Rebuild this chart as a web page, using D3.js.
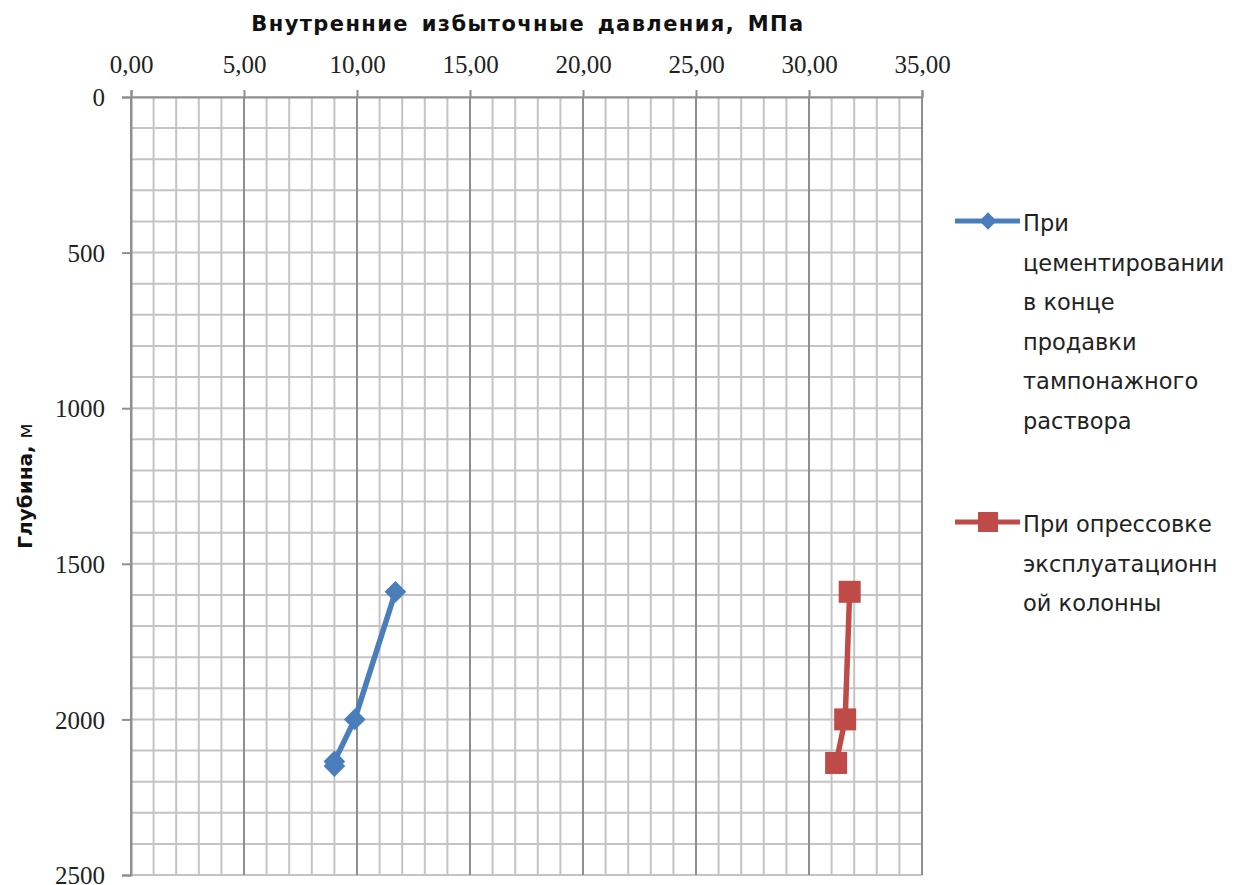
<!DOCTYPE html>
<html>
<head>
<meta charset="utf-8">
<script src="https://cdn.jsdelivr.net/npm/d3@7"></script>
<style>
  body { margin: 0; background: #fff; }
  svg { display: block; }
</style>
</head>
<body>
<div id="chart"></div>
<script>
// Data: pressure (MPa) vs depth (m)
let cementDepth = [1590, 2000, 2135, 2150];
let cementPressure = [11.7, 9.9, 9.0, 9.0];
let testDepth = [1590, 2000, 2140];
let testPressure = [31.8, 31.6, 31.2];

let xTicks = [0, 5, 10, 15, 20, 25, 30, 35];
let yTicks = [0, 500, 1000, 1500, 2000, 2500];

let cementLegend = ["При", "цементировании", "в конце", "продавки", "тампонажного", "раствора"];
let testLegend = ["При опрессовке", "эксплуатационн", "ой колонны"];

let width = 1235;
let height = 885;
let plotLeft = 131, plotRight = 922, plotTop = 97, plotBottom = 875;

let svg = d3.select("#chart").append("svg")
  .attr("width", width)
  .attr("height", height);

let x = d3.scaleLinear().domain([0, 35]).range([plotLeft, plotRight]);
let y = d3.scaleLinear().domain([0, 2500]).range([plotTop, plotBottom]);

// grid
let minorX = d3.range(0, 36, 1);
let minorY = d3.range(0, 2501, 100);

svg.append("g").selectAll("line")
  .data(minorY)
  .enter().append("line")
  .attr("x1", plotLeft).attr("x2", plotRight)
  .attr("y1", d => y(d)).attr("y2", d => y(d))
  .attr("stroke", "#c4c4c4")
  .attr("stroke-width", 2);

svg.append("g").selectAll("line")
  .data(minorX.filter(d => d % 5 !== 0))
  .enter().append("line")
  .attr("x1", d => x(d)).attr("x2", d => x(d))
  .attr("y1", plotTop).attr("y2", plotBottom)
  .attr("stroke", "#c4c4c4")
  .attr("stroke-width", 2);

svg.append("g").selectAll("line")
  .data(xTicks)
  .enter().append("line")
  .attr("x1", d => x(d)).attr("x2", d => x(d))
  .attr("y1", plotTop).attr("y2", plotBottom)
  .attr("stroke", "#8f8f8f")
  .attr("stroke-width", 2);

// axes
let fmt = d => d3.format(".2f")(d).replace(".", ",");

let xAxis = svg.append("g")
  .attr("transform", "translate(0," + plotTop + ")")
  .call(d3.axisTop(x).tickValues(xTicks).tickFormat(fmt).tickSize(7).tickPadding(17));

let yAxis = svg.append("g")
  .attr("transform", "translate(" + plotLeft + ",0)")
  .call(d3.axisLeft(y).tickValues(yTicks).tickFormat(d3.format("d")).tickSize(9).tickPadding(17));

[xAxis, yAxis].forEach(function(a) {
  a.attr("font-family", "'Liberation Serif', serif").attr("font-size", 25);
  a.select(".domain").attr("stroke", "#8f8f8f").attr("stroke-width", 2);
  a.selectAll(".tick line").attr("stroke", "#8f8f8f").attr("stroke-width", 2);
  a.selectAll(".tick text").attr("fill", "#222");
});
yAxis.selectAll(".tick text").attr("dy", "0.35em");

// axis titles
svg.append("text")
  .attr("x", 528).attr("y", 31)
  .attr("text-anchor", "middle")
  .attr("font-family", "'DejaVu Sans', sans-serif")
  .attr("font-weight", "bold")
  .attr("font-size", 21)
  .attr("letter-spacing", 1.4)
  .attr("word-spacing", 4)
  .attr("fill", "#111")
  .text("Внутренние избыточные давления, МПа");

let yTitle = svg.append("text")
  .attr("transform", "translate(32,486) rotate(-90)")
  .attr("text-anchor", "middle")
  .attr("font-family", "'DejaVu Sans', sans-serif")
  .attr("font-size", 20)
  .attr("fill", "#111");
yTitle.append("tspan").attr("font-weight", "bold").text("Глубина, ");
yTitle.append("tspan").text("м");

// series
let blue = "#4a7ebb";
let red = "#be4b48";

let line = d3.line()
  .x(d => x(d[0]))
  .y(d => y(d[1]));

let cementData = cementPressure.map((p, i) => [p, cementDepth[i]]);
let testData = testPressure.map((p, i) => [p, testDepth[i]]);

svg.append("path")
  .datum(cementData)
  .attr("d", line)
  .attr("fill", "none")
  .attr("stroke", blue)
  .attr("stroke-width", 5.5);

svg.append("g").selectAll("path")
  .data(cementData)
  .enter().append("path")
  .attr("transform", d => "translate(" + x(d[0]) + "," + y(d[1]) + ")")
  .attr("d", d3.symbol().type(d3.symbolDiamond2).size(300))
  .attr("fill", blue);

svg.append("path")
  .datum(testData)
  .attr("d", line)
  .attr("fill", "none")
  .attr("stroke", red)
  .attr("stroke-width", 5.5);

svg.append("g").selectAll("rect")
  .data(testData)
  .enter().append("rect")
  .attr("x", d => x(d[0]) - 11)
  .attr("y", d => y(d[1]) - 11)
  .attr("width", 22)
  .attr("height", 22)
  .attr("fill", red);

// legend
function legendItem(ly, color, lines, marker) {
  let g = svg.append("g");
  g.append("line")
    .attr("x1", 955).attr("x2", 1020)
    .attr("y1", ly).attr("y2", ly)
    .attr("stroke", color)
    .attr("stroke-width", 5);
  if (marker === "diamond") {
    g.append("path")
      .attr("transform", "translate(988," + ly + ")")
      .attr("d", d3.symbol().type(d3.symbolDiamond2).size(190))
      .attr("fill", color);
  } else {
    g.append("rect")
      .attr("x", 978).attr("y", ly - 10)
      .attr("width", 20).attr("height", 20)
      .attr("fill", color);
  }
  g.append("g").selectAll("text")
    .data(lines)
    .enter().append("text")
    .attr("x", 1023)
    .attr("y", (d, i) => ly + 10 + i * 39.5)
    .attr("font-family", "'DejaVu Sans', sans-serif")
    .attr("font-size", 22.5)
    .attr("fill", "#222")
    .text(d => d);
}

legendItem(221, blue, cementLegend, "diamond");
legendItem(522, red, testLegend, "square");
</script>
</body>
</html>
